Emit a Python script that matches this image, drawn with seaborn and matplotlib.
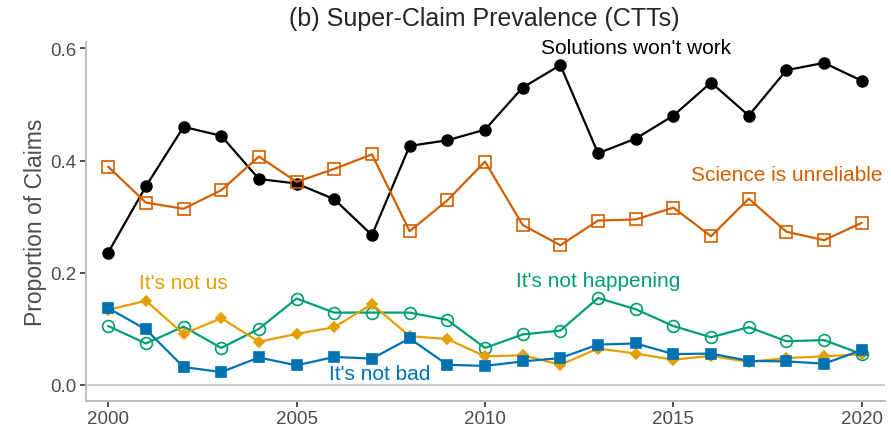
import matplotlib
matplotlib.use("Agg")
import matplotlib.pyplot as plt
import pandas as pd
import seaborn as sns

years = list(range(2000, 2021))

solutions_wont_work = [0.236, 0.354, 0.460, 0.444, 0.367, 0.359, 0.331, 0.267, 0.426, 0.436, 0.455,
                       0.530, 0.570, 0.413, 0.439, 0.480, 0.539, 0.480, 0.561, 0.574, 0.542]
science_unreliable = [0.389, 0.325, 0.314, 0.347, 0.407, 0.362, 0.385, 0.411, 0.274, 0.329, 0.398,
                      0.285, 0.249, 0.293, 0.295, 0.316, 0.265, 0.332, 0.273, 0.258, 0.289]
not_happening = [0.105, 0.074, 0.104, 0.066, 0.100, 0.154, 0.129, 0.129, 0.129, 0.116, 0.066,
                 0.090, 0.097, 0.155, 0.135, 0.105, 0.085, 0.103, 0.078, 0.080, 0.055]
not_us = [0.134, 0.150, 0.091, 0.119, 0.077, 0.091, 0.103, 0.144, 0.087, 0.082, 0.051,
          0.053, 0.036, 0.065, 0.056, 0.045, 0.052, 0.041, 0.048, 0.051, 0.055]
not_bad = [0.137, 0.099, 0.032, 0.023, 0.049, 0.035, 0.050, 0.047, 0.083, 0.036, 0.034,
           0.042, 0.048, 0.072, 0.074, 0.055, 0.056, 0.043, 0.042, 0.038, 0.062]

claims = ["Solutions won't work", "Science is unreliable", "It's not happening", "It's not us", "It's not bad"]
values = [solutions_wont_work, science_unreliable, not_happening, not_us, not_bad]
colors = ["black", "#D55E00", "#009E73", "#E69F00", "#0072B2"]
markers = ["o", "s", "o", "D", "s"]
filled = [True, False, False, True, True]
msizes = [7.8, 8.5, 8.5, 5.2, 7.5]

# label positions (year, proportion)
label_x = [2014, 2018, 2013, 2002, 2007.2]
label_y = [0.602, 0.3745, 0.187, 0.183, 0.021]

df = pd.DataFrame([(c, y, v) for c, vals in zip(claims, values) for y, v in zip(years, vals)],
                  columns=["claim", "year", "prop"])

sns.set_style("white")
plt.rcParams["font.family"] = ["Liberation Sans", "DejaVu Sans"]

fig = plt.figure(figsize=(8.91, 4.31), dpi=100)
ax = fig.add_axes([0.0965, 0.068, 0.8965, 0.832])

ax.axhline(0, color="#cccccc", linewidth=1.5, zorder=0)

for c, col, m, f, ms in zip(claims, colors, markers, filled, msizes):
    sns.lineplot(data=df[df.claim == c], x="year", y="prop", color=col, marker=m,
                 markersize=ms, markerfacecolor=col if f else "none", markeredgecolor=col,
                 markeredgewidth=1.2, linewidth=1.6, ax=ax)

for c, col, lx, ly in zip(claims, colors, label_x, label_y):
    ax.text(lx, ly, c, color=col, fontsize=15, ha="center", va="center")

ax.set_xlim(1999.41, 2020.61)
ax.set_ylim(-0.028, 0.611)
ax.set_xticks([2000, 2005, 2010, 2015, 2020])
ax.set_yticks([0.0, 0.2, 0.4, 0.6])
ax.set_yticklabels(["0.0", "0.2", "0.4", "0.6"])
ax.set_xlabel("")
ax.set_ylabel("Proportion of Claims", fontsize=16.5, color="#4d4d4d", labelpad=2)
ax.tick_params(axis="both", labelsize=13.5, labelcolor="#4d4d4d", color="#333333",
               length=4, width=1.2, direction="out", left=True, bottom=True, pad=3)
for s in ["top", "right"]:
    ax.spines[s].set_visible(False)
for s in ["left", "bottom"]:
    ax.spines[s].set_color("#bdbdbd")
    ax.spines[s].set_linewidth(1.4)

fig.suptitle("(b) Super-Claim Prevalence (CTTs)", fontsize=18, x=0.543, y=0.983, va="top")

fig.savefig("out.png", dpi=100)
